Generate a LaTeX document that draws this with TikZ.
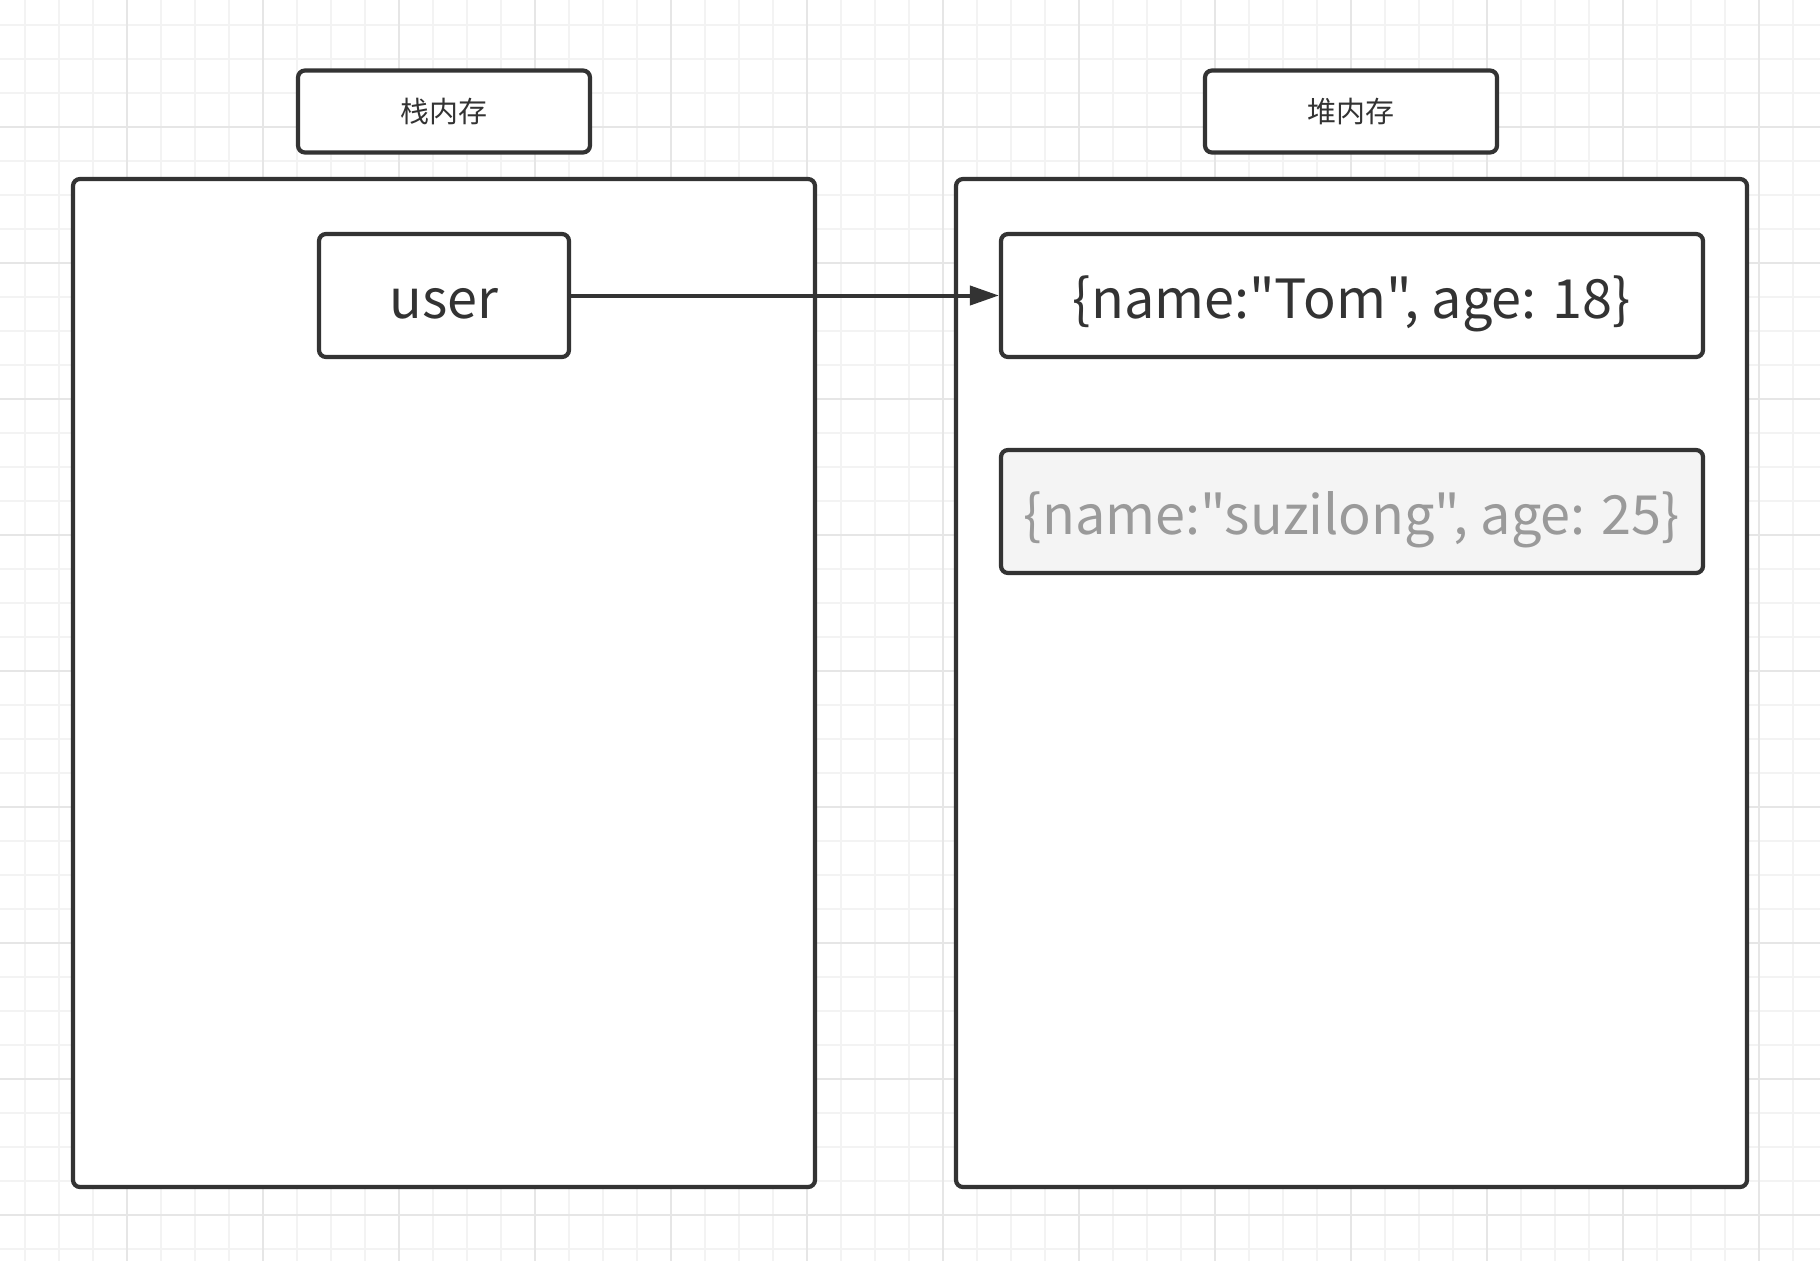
\documentclass[tikz,border=0pt]{standalone}
\usepackage{fontspec}
\setmainfont{Noto Sans CJK SC}[Ligatures=TeXOff]
\newfontfamily\cjk{Noto Sans CJK SC}
\usetikzlibrary{arrows.meta}
\definecolor{ink}{HTML}{333333}
\definecolor{fade}{HTML}{9A9A9A}
\definecolor{paleFill}{HTML}{F4F4F4}
\definecolor{gridMinor}{HTML}{F3F3F3}
\definecolor{gridMajor}{HTML}{E6E6E6}
\newcommand{\dq}{\symbol{34}}
\tikzset{
  gridminor/.style={draw=gridMinor, line width=1.6pt},
  gridmajor/.style={draw=gridMajor, line width=2.2pt},
  memframe/.style={draw=ink, line width=4.2pt, rounded corners=7pt, fill=white, rectangle},
  titlebox/.style={draw=ink, line width=4.2pt, rounded corners=7pt, fill=white, rectangle,
    minimum width=292pt, minimum height=82pt, inner sep=0pt, font=\cjk\fontsize{29}{32}\selectfont, text=ink},
  cellbox/.style={draw=ink, line width=4.2pt, rounded corners=7pt, fill=white, rectangle,
    minimum height=123pt, inner sep=0pt, text height=46pt, text depth=0pt,
    font=\fontsize{54}{60}\selectfont, text=ink},
  ghostbox/.style={cellbox, fill=paleFill, text=fade},
  pointer/.style={draw=ink, line width=4pt, -{Triangle[length=29pt,width=19pt]}}
}
\begin{document}
\begin{tikzpicture}[x=1pt,y=-1pt]
\useasboundingbox (0,0) rectangle (1820,1261);
\fill[white] (0,0) rectangle (1820,1261);
% grid
\foreach \i in {0,...,53} \draw[gridminor] ({25+34*\i},0) -- ({25+34*\i},1261);
\foreach \j in {0,...,36} \draw[gridminor] (0,{25+34*\j}) -- (1820,{25+34*\j});
\foreach \i in {1,...,13} \draw[gridmajor] ({-9+136*\i},0) -- ({-9+136*\i},1261);
\foreach \j in {1,...,9} \draw[gridmajor] (0,{-9+136*\j}) -- (1820,{-9+136*\j});
% frames
\node[memframe, minimum width=742pt, minimum height=1008pt] (stack) at (444,683) {};
\node[memframe, minimum width=791pt, minimum height=1008pt] (heap) at (1351.5,683) {};
% titles
\node[titlebox] (stacktitle) at (444,111.5) {栈内存};
\node[titlebox] (heaptitle) at (1351,111.5) {堆内存};
% cells
\node[cellbox, minimum width=250pt] (user) at (444,295.5) {user};
\node[cellbox, minimum width=702pt] (tom) at (1352,295.5) {\{name:\dq Tom\dq, age: 18\}};
\node[ghostbox, minimum width=702pt] (suz) at (1352,511.5) {\{name:\dq suzilong\dq, age: 25\}};
% pointer
\draw[pointer] (user.east) -- (tom.west);
\end{tikzpicture}
\end{document}
